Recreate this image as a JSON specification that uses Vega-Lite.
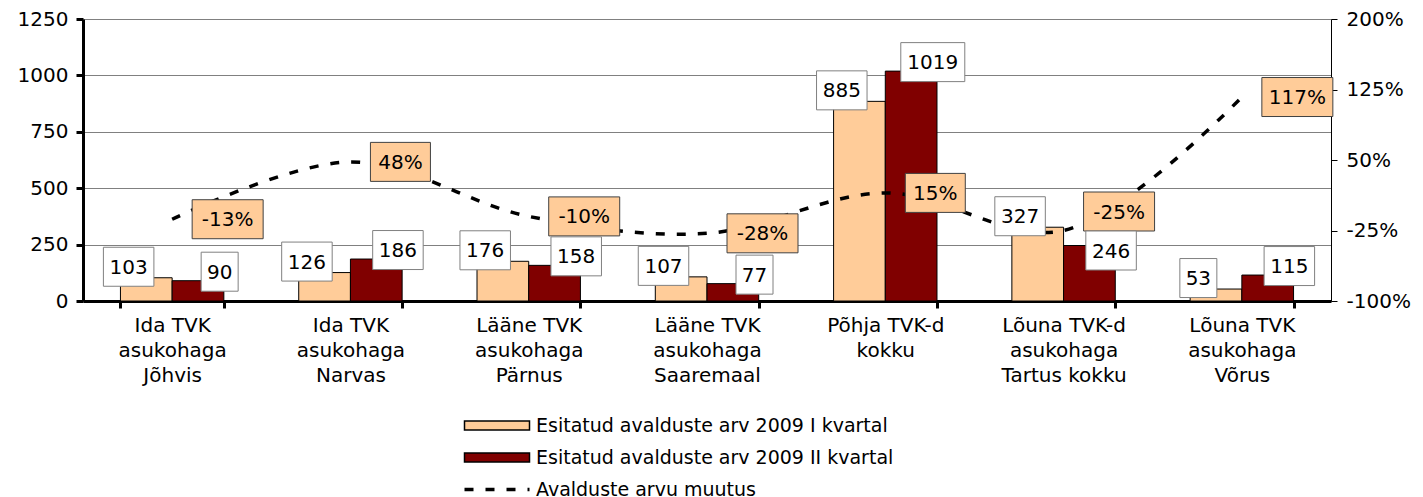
{
  "$schema": "https://vega.github.io/schema/vega-lite/v6.json",
  "width": 1248,
  "height": 282,
  "autosize": {"type": "none"},
  "padding": {"left": 83, "top": 19, "right": 92, "bottom": 196},
  "background": "white",
  "config": {
    "font": "DejaVu Sans",
    "view": {"stroke": null},
    "axis": {"labelFont": "DejaVu Sans", "labelFontSize": 20, "labelColor": "black", "title": null}
  },
  "datasets": {
    "bars": [
      {"cat": "Ida TVK\nasukohaga\nJõhvis", "series": "Esitatud avalduste arv 2009 I kvartal", "value": 103},
      {"cat": "Ida TVK\nasukohaga\nJõhvis", "series": "Esitatud avalduste arv 2009 II kvartal", "value": 90},
      {"cat": "Ida TVK\nasukohaga\nNarvas", "series": "Esitatud avalduste arv 2009 I kvartal", "value": 126},
      {"cat": "Ida TVK\nasukohaga\nNarvas", "series": "Esitatud avalduste arv 2009 II kvartal", "value": 186},
      {"cat": "Lääne TVK\nasukohaga\nPärnus", "series": "Esitatud avalduste arv 2009 I kvartal", "value": 176},
      {"cat": "Lääne TVK\nasukohaga\nPärnus", "series": "Esitatud avalduste arv 2009 II kvartal", "value": 158},
      {"cat": "Lääne TVK\nasukohaga\nSaaremaal", "series": "Esitatud avalduste arv 2009 I kvartal", "value": 107},
      {"cat": "Lääne TVK\nasukohaga\nSaaremaal", "series": "Esitatud avalduste arv 2009 II kvartal", "value": 77},
      {"cat": "Põhja TVK-d\nkokku", "series": "Esitatud avalduste arv 2009 I kvartal", "value": 885},
      {"cat": "Põhja TVK-d\nkokku", "series": "Esitatud avalduste arv 2009 II kvartal", "value": 1019},
      {"cat": "Lõuna TVK-d\nasukohaga\nTartus kokku", "series": "Esitatud avalduste arv 2009 I kvartal", "value": 327},
      {"cat": "Lõuna TVK-d\nasukohaga\nTartus kokku", "series": "Esitatud avalduste arv 2009 II kvartal", "value": 246},
      {"cat": "Lõuna TVK\nasukohaga\nVõrus", "series": "Esitatud avalduste arv 2009 I kvartal", "value": 53},
      {"cat": "Lõuna TVK\nasukohaga\nVõrus", "series": "Esitatud avalduste arv 2009 II kvartal", "value": 115}
    ],
    "change": [
      {"cat": "Ida TVK\nasukohaga\nJõhvis", "series": "Avalduste arvu muutus", "pct": -13},
      {"cat": "Ida TVK\nasukohaga\nNarvas", "series": "Avalduste arvu muutus", "pct": 48},
      {"cat": "Lääne TVK\nasukohaga\nPärnus", "series": "Avalduste arvu muutus", "pct": -10},
      {"cat": "Lääne TVK\nasukohaga\nSaaremaal", "series": "Avalduste arvu muutus", "pct": -28},
      {"cat": "Põhja TVK-d\nkokku", "series": "Avalduste arvu muutus", "pct": 15},
      {"cat": "Lõuna TVK-d\nasukohaga\nTartus kokku", "series": "Avalduste arvu muutus", "pct": -25},
      {"cat": "Lõuna TVK\nasukohaga\nVõrus", "series": "Avalduste arvu muutus", "pct": 117}
    ]
  },
  "layer": [
    {
      "data": {"name": "bars"},
      "mark": {"type": "bar", "stroke": "black", "strokeWidth": 1},
      "encoding": {
        "x": {
          "field": "cat", "type": "nominal", "sort": null,
          "scale": {"paddingInner": 0.42, "paddingOuter": 0.21},
          "axis": {
            "labelExpr": "isString(datum.value) ? split(datum.value, '\\n') : ''",
            "labelAngle": 0, "labelLineHeight": 25, "labelBaseline": "top",
            "labelPadding": 7, "labelLimit": 0,
            "tickBand": "extent", "tickColor": "black", "tickWidth": 3, "tickSize": 7,
            "domainColor": "black", "domainWidth": 3, "grid": false
          }
        },
        "xOffset": {"field": "series", "type": "nominal", "sort": null, "scale": {"paddingInner": 0, "paddingOuter": 0}},
        "y": {
          "field": "value", "type": "quantitative",
          "scale": {"domain": [0, 1250], "nice": false},
          "axis": {
            "values": [0, 250, 500, 750, 1000, 1250], "format": "d",
            "grid": true, "gridColor": "#808080", "gridWidth": 1,
            "domainColor": "black", "domainWidth": 3,
            "tickColor": "black", "tickWidth": 3, "tickSize": 7,
            "labelPadding": 8
          }
        },
        "color": {
          "field": "series", "type": "nominal", "sort": null,
          "scale": {
            "domain": ["Esitatud avalduste arv 2009 I kvartal", "Esitatud avalduste arv 2009 II kvartal"],
            "range": ["#FFCC99", "#800000"]
          },
          "legend": {
            "orient": "none", "legendX": 372, "legendY": 397,
            "direction": "vertical", "title": null,
            "labelFontSize": 19, "labelFont": "DejaVu Sans", "labelColor": "black", "labelLimit": 700,
            "symbolType": "M0,-0.9H13V0.9H0Z", "symbolSize": 100,
            "symbolStrokeColor": "black", "symbolStrokeWidth": 1.5, "symbolOpacity": 1,
            "labelOffset": 62, "rowPadding": 12
          }
        }
      }
    },
    {
      "data": {"name": "change"},
      "mark": {"type": "line", "color": "black", "interpolate": "catmull-rom", "strokeWidth": 3.5, "strokeCap": "butt"},
      "encoding": {
        "x": {"field": "cat", "type": "nominal", "sort": null},
        "y": {
          "field": "pct", "type": "quantitative",
          "scale": {"domain": [-100, 200], "nice": false},
          "axis": {
            "orient": "right", "values": [-100, -25, 50, 125, 200],
            "labelExpr": "datum.value + '%'",
            "domainColor": "black", "domainWidth": 1,
            "tickColor": "black", "tickWidth": 1, "tickSize": 6,
            "labelPadding": 9, "grid": false
          }
        },
        "strokeDash": {
          "field": "series", "type": "nominal",
          "scale": {"range": [[9, 12]]},
          "legend": {
            "orient": "none", "legendX": 372, "legendY": 461,
            "direction": "vertical", "title": null,
            "labelFontSize": 19, "labelFont": "DejaVu Sans", "labelColor": "black", "labelLimit": 700,
            "symbolType": "M0,0H13", "symbolSize": 100,
            "symbolStrokeColor": "black", "symbolStrokeWidth": 3.5,
            "labelOffset": 62
          }
        }
      }
    },
    {
      "data": {"name": "change"},
      "mark": {
        "type": "rect", "fill": "#FFCC99", "stroke": "#404040", "strokeWidth": 1,
        "width": {"expr": "11 * length(datum.pct + '%') + 27"},
        "xOffset": {"expr": "20 + (11 * length(datum.pct + '%') + 27) / 2"},
        "yOffset": {"expr": "(datum.pct === -25 ? -19 : 0) - 19.5"},
        "y2Offset": {"expr": "(datum.pct === -25 ? -19 : 0) + 19.5"}
      },
      "encoding": {
        "x": {"field": "cat", "type": "nominal", "sort": null},
        "y": {"field": "pct", "type": "quantitative", "scale": {"domain": [-100, 200], "nice": false}, "axis": null},
        "y2": {"field": "pct"}
      }
    },
    {
      "data": {"name": "change"},
      "mark": {
        "type": "text", "fontSize": 20, "font": "DejaVu Sans", "color": "black",
        "baseline": "middle", "align": "center",
        "xOffset": {"expr": "20 + (11 * length(datum.pct + '%') + 27) / 2"},
        "yOffset": {"expr": "datum.pct === -25 ? -18 : 1"},
        "text": {"expr": "datum.pct + '%'"}
      },
      "encoding": {
        "x": {"field": "cat", "type": "nominal", "sort": null},
        "y": {"field": "pct", "type": "quantitative", "scale": {"domain": [-100, 200], "nice": false}, "axis": null}
      }
    },
    {
      "data": {"name": "bars"},
      "transform": [{"filter": "datum.series === 'Esitatud avalduste arv 2009 I kvartal'"}],
      "mark": {
        "type": "rect", "fill": "white", "stroke": "#808080", "strokeWidth": 1,
        "width": {"expr": "13.5 * length(datum.value + '') + 10"},
        "xOffset": -43.5, "yOffset": -30.5, "y2Offset": 8.5
      },
      "encoding": {
        "x": {"field": "cat", "type": "nominal", "sort": null},
        "y": {"field": "value", "type": "quantitative", "scale": {"domain": [0, 1250], "nice": false}, "axis": null},
        "y2": {"field": "value"}
      }
    },
    {
      "data": {"name": "bars"},
      "transform": [{"filter": "datum.series === 'Esitatud avalduste arv 2009 I kvartal'"}],
      "mark": {"type": "text", "fontSize": 20, "font": "DejaVu Sans", "color": "black", "baseline": "middle", "align": "center", "xOffset": -43.5, "yOffset": -10},
      "encoding": {
        "x": {"field": "cat", "type": "nominal", "sort": null},
        "y": {"field": "value", "type": "quantitative", "scale": {"domain": [0, 1250], "nice": false}, "axis": null},
        "text": {"field": "value", "type": "quantitative", "format": "d"}
      }
    },
    {
      "data": {"name": "bars"},
      "transform": [{"filter": "datum.series === 'Esitatud avalduste arv 2009 II kvartal'"}],
      "mark": {
        "type": "rect", "fill": "white", "stroke": "#808080", "strokeWidth": 1,
        "width": {"expr": "13.5 * length(datum.value + '') + 10"},
        "xOffset": 47.5,
        "yOffset": {"expr": "(datum.value === 246 ? 14 : 0) - 28.5"},
        "y2Offset": {"expr": "(datum.value === 246 ? 14 : 0) + 10.5"}
      },
      "encoding": {
        "x": {"field": "cat", "type": "nominal", "sort": null},
        "y": {"field": "value", "type": "quantitative", "scale": {"domain": [0, 1250], "nice": false}, "axis": null},
        "y2": {"field": "value"}
      }
    },
    {
      "data": {"name": "bars"},
      "transform": [{"filter": "datum.series === 'Esitatud avalduste arv 2009 II kvartal'"}],
      "mark": {
        "type": "text", "fontSize": 20, "font": "DejaVu Sans", "color": "black", "baseline": "middle", "align": "center",
        "xOffset": 47.5,
        "yOffset": {"expr": "datum.value === 246 ? 6 : -8"}
      },
      "encoding": {
        "x": {"field": "cat", "type": "nominal", "sort": null},
        "y": {"field": "value", "type": "quantitative", "scale": {"domain": [0, 1250], "nice": false}, "axis": null},
        "text": {"field": "value", "type": "quantitative", "format": "d"}
      }
    }
  ],
  "resolve": {"scale": {"y": "independent"}}
}
